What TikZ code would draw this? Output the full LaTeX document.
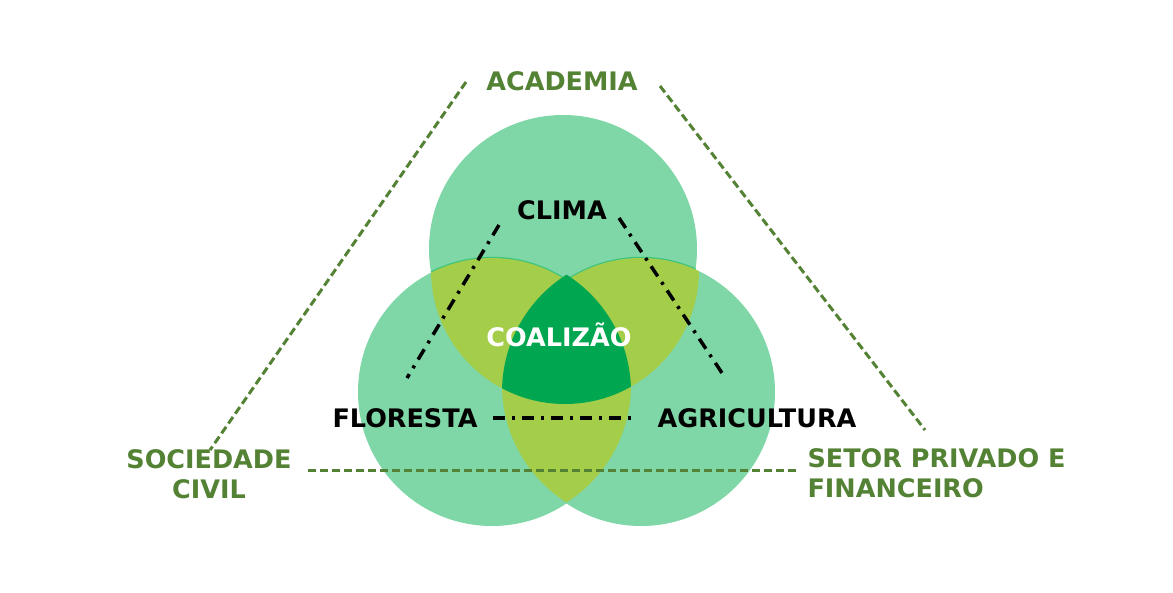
\documentclass[tikz,border=0pt]{standalone}
\usepackage{fontspec}
\setmainfont{DejaVu Sans}
\definecolor{verdeclaro}{HTML}{7FD7A7}
\definecolor{verdemedio}{HTML}{3EC47E}
\definecolor{verdeamarelo}{HTML}{A4CD4A}
\definecolor{verdeescuro}{HTML}{00A650}
\definecolor{verdetexto}{HTML}{548235}
\begin{document}
\begin{tikzpicture}[x=1pt, y=-1pt, line join=round,
		setor/.style={text=verdetexto, font=\fontsize{25.5}{30}\selectfont\bfseries},
		tema/.style={text=black, font=\fontsize{25.5}{30}\selectfont\bfseries},
		ligacao/.style={verdetexto, line width=3pt, dash pattern=on 8pt off 4pt},
		eixo/.style={black, line width=3.5pt, dash pattern=on 12pt off 7pt on 3pt off 7pt}]
				% Moldura
				\useasboundingbox (0,0) rectangle (1173,592);
				
				% Raios dos círculos
				\def\R{134}
				\def\Rc{139} % recorte do centro
				
				% Centros (T2, E2, D2: círculos de recorte das lentes)
				\coordinate (T) at (563,249);
				\coordinate (T2) at (565,270);
				\coordinate (E) at (492,392);
				\coordinate (D) at (641,392);
				\coordinate (E2) at (492,385);
				\coordinate (D2) at (641,385);
				
				% Círculos
				\fill[verdeclaro] (T) circle (\R);
				\fill[verdeclaro] (E) circle (\R);
				\fill[verdeclaro] (D) circle (\R);
				
				% Borda das lentes dentro do círculo de cima
				\begin{scope}
					\clip (T) circle (\R);
					\draw[verdemedio, line width=2.5pt] (E) circle (\R);
					\draw[verdemedio, line width=2.5pt] (D) circle (\R);
				\end{scope}
				
				% Interseções duas a duas
				\begin{scope}
					\clip (T2) circle (\R);
					\fill[verdeamarelo] (E) circle (\R);
					\fill[verdeamarelo] (D) circle (\R);
				\end{scope}
				\begin{scope}
					\clip (400,330) rectangle (730,520);
					\clip (E2) circle (\Rc);
					\fill[verdeamarelo] (D2) circle (\Rc);
				\end{scope}
				
				% Interseção tripla
				\begin{scope}
					\clip (T2) circle (\R);
					\clip (E) circle (\Rc);
					\fill[verdeescuro] (D) circle (\Rc);
				\end{scope}
				
				% Temas
				\node[tema] (clima) at (562,210) {CLIMA};
				\node[tema] (floresta) at (405,418) {FLORESTA};
				\node[tema] (agricultura) at (757,418) {AGRICULTURA};
				\node[tema, text=white] (coalizao) at (559,335) {COALIZÃO};
				
				% Setores
				\node[setor] (academia) at (562,81) {ACADEMIA};
				\node[setor, align=center] (sociedade) at (209,474) {SOCIEDADE\\CIVIL};
				\node[setor, align=left, anchor=west] (privado) at (804,473) {SETOR PRIVADO E\\FINANCEIRO};
				
				% Extremos das ligações
				\coordinate (a1) at (466,82);
				\coordinate (a2) at (210,450);
				\coordinate (a3) at (660,86);
				\coordinate (a4) at (925,430);
				\coordinate (a5) at (308,470);
				\coordinate (a6) at (797,470);
				\coordinate (c1) at (499,225);
				\coordinate (c2) at (407,378);
				\coordinate (c3) at (619,218);
				\coordinate (c4) at (724,376);
				\coordinate (c5) at (493,418);
				\coordinate (c6) at (636,418);
				
				% Ligações entre setores
				\draw[ligacao] (a1) -- (a2);
				\draw[ligacao] (a3) -- (a4);
				\draw[ligacao] (a5) -- (a6);
				
				% Eixos entre temas
				\draw[eixo] (c1) -- (c2);
				\draw[eixo] (c3) -- (c4);
				\draw[eixo] (c5) -- (c6);
\end{tikzpicture}
\end{document}
